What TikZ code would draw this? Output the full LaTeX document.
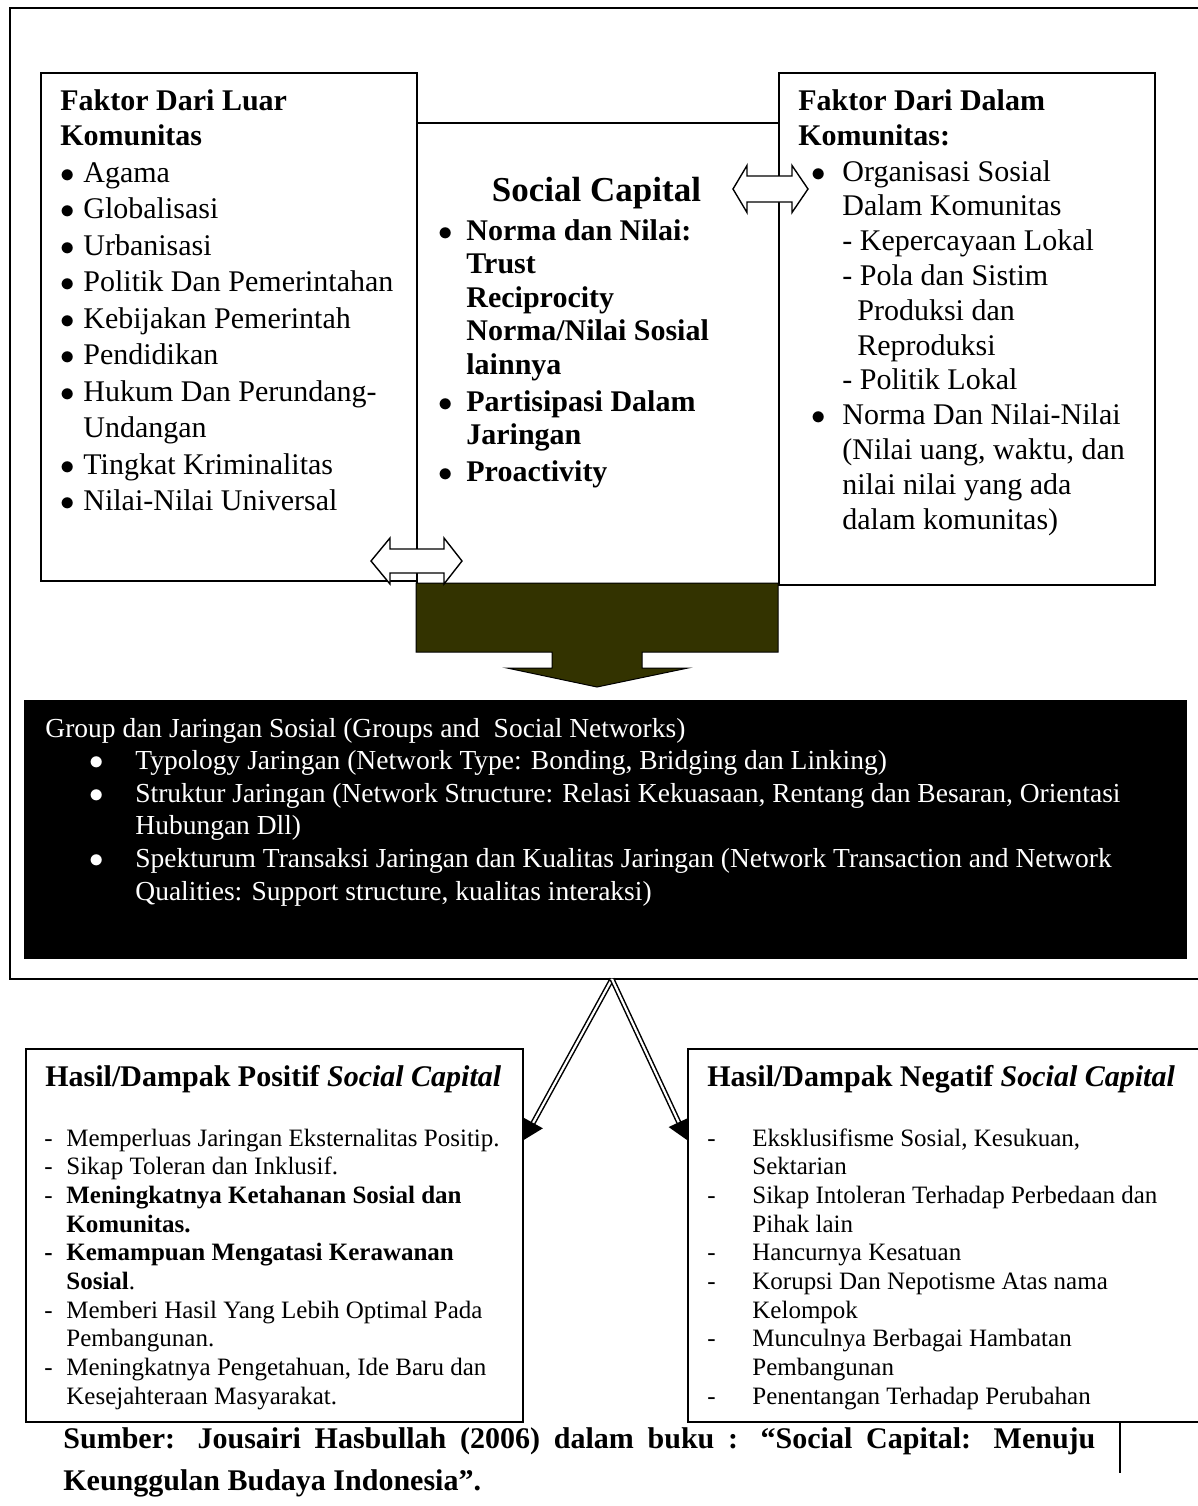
\documentclass[tikz,border=0pt]{standalone}
\usepackage{fontspec}
\setmainfont{Liberation Serif}
\usetikzlibrary{arrows.meta,calc}

\definecolor{olivebrown}{RGB}{51,51,0}

\newcommand{\bul}[1]{\makebox[#1][l]{$\bullet$}}
\newcommand{\dsh}[1]{\makebox[#1][l]{-}}

\tikzset{
  boxframe/.style={draw,line width=0.85pt,fill=white,inner sep=0pt,anchor=north west},
  txt/.style={inner sep=0pt,anchor=base west},
  fatarrow/.style={draw,line width=0.7pt,fill=white},
  thinarrow/.style={double,line width=0.75pt,double distance=1.1pt,
    -{Triangle[length=9.75pt,width=11pt]}}
}

\begin{document}
\begin{tikzpicture}[x=0.5pt,y=-0.5pt]
  \useasboundingbox (0,0) rectangle (1198,1506);

  % outer frame, right side runs off the page
  \draw[line width=0.85pt] (1198,8) -- (10,8) -- (10,979) -- (1198,979);

  \node[boxframe,minimum width=181pt,minimum height=230.5pt] (sc) at (416,122) {};
  \node[boxframe,minimum width=188pt,minimum height=254pt] (luar) at (40,72) {};
  \node[boxframe,minimum width=188pt,minimum height=256pt] (dalam) at (778,72) {};

  \node[txt,font={\fontsize{15}{17.5}\selectfont\bfseries}] (luarhead) at (60,110)
    {\begin{tabular}[t]{@{}l@{}}Faktor Dari Luar\\Komunitas\end{tabular}};
  \node[txt,font={\fontsize{15}{18.25}\selectfont}] (luarlist) at (60,182)
    {\begin{tabular}[t]{@{}l@{}}
      \bul{11.5pt}Agama\\
      \bul{11.5pt}Globalisasi\\
      \bul{11.5pt}Urbanisasi\\
      \bul{11.5pt}Politik Dan Pemerintahan\\
      \bul{11.5pt}Kebijakan Pemerintah\\
      \bul{11.5pt}Pendidikan\\
      \bul{11.5pt}Hukum Dan Perundang-\\
      \hspace*{11.5pt}Undangan\\
      \bul{11.5pt}Tingkat Kriminalitas\\
      \bul{11.5pt}Nilai-Nilai Universal
    \end{tabular}};

  \node[anchor=base,inner sep=0pt,font={\fontsize{17.5}{21}\selectfont\bfseries}] (sctitle) at (596.5,201) {Social Capital};
  \node[txt,font={\fontsize{15}{16.75}\selectfont\bfseries}] (sclist) at (438,240)
    {\begin{tabular}[t]{@{}l@{}}
      \bul{14pt}Norma dan Nilai:\\
      \hspace*{14pt}Trust\\
      \hspace*{14pt}Reciprocity\\
      \hspace*{14pt}Norma/Nilai Sosial\\
      \hspace*{14pt}lainnya\\[1.75pt]
      \bul{14pt}Partisipasi Dalam\\
      \hspace*{14pt}Jaringan\\[1.75pt]
      \bul{14pt}Proactivity
    \end{tabular}};

  \node[txt,font={\fontsize{15}{17.5}\selectfont\bfseries}] (dalamhead) at (798,110)
    {\begin{tabular}[t]{@{}l@{}}Faktor Dari Dalam\\Komunitas:\end{tabular}};
  \node[txt,font={\fontsize{15}{17.4}\selectfont}] (dalamlist) at (811,181)
    {\begin{tabular}[t]{@{}l@{}}
      \bul{15.5pt}Organisasi Sosial\\
      \hspace*{15.5pt}Dalam Komunitas\\
      \hspace*{15.5pt}- Kepercayaan Lokal\\
      \hspace*{15.5pt}- Pola dan Sistim\\
      \hspace*{23pt}Produksi dan\\
      \hspace*{23pt}Reproduksi\\
      \hspace*{15.5pt}- Politik Lokal\\
      \bul{15.5pt}Norma Dan Nilai-Nilai\\
      \hspace*{15.5pt}(Nilai uang, waktu, dan\\
      \hspace*{15.5pt}nilai nilai yang ada\\
      \hspace*{15.5pt}dalam komunitas)
    \end{tabular}};

  \draw[fatarrow] (733,189) -- (747,165.5) -- (747,176) -- (792,176) -- (792,165.5)
    -- (808,189) -- (792,212.5) -- (792,202) -- (747,202) -- (747,212.5) -- cycle;

  \draw[line width=0.5pt,fill=olivebrown] (416,583) -- (778,583) -- (778,652) -- (642,652)
    -- (642,668) -- (688,668) -- (597,687) -- (507,668) -- (552,668) -- (552,652)
    -- (416,652) -- cycle;

  \draw[fatarrow] (371,561) -- (390,538) -- (390,549) -- (444,549) -- (444,538)
    -- (462,561) -- (444,584) -- (444,573) -- (390,573) -- (390,584) -- cycle;

  \node[boxframe,fill=black,minimum width=580.5pt,minimum height=128.5pt] (jaringan) at (24,700) {};
  \node[txt,text=white,font={\fontsize{13.75}{16.3}\selectfont}] (jaringantext) at (45,737)
    {\begin{tabular}[t]{@{}l@{}}
      Group dan Jaringan Sosial (Groups and\ \ Social Networks)\\
      \hspace*{22pt}\bul{23pt}Typology Jaringan (Network Type: Bonding, Bridging dan Linking)\\
      \hspace*{22pt}\bul{23pt}Struktur Jaringan (Network Structure: Relasi Kekuasaan, Rentang dan Besaran, Orientasi\\
      \hspace*{45pt}Hubungan Dll)\\
      \hspace*{22pt}\bul{23pt}Spekturum Transaksi Jaringan dan Kualitas Jaringan (Network Transaction and Network\\
      \hspace*{45pt}Qualities: Support structure, kualitas interaksi)
    \end{tabular}};

  \coordinate (apex) at (612,979);
  \node[boxframe,minimum width=248.5pt,minimum height=186.5pt] (posbox) at (25,1048) {};
  \node[boxframe,minimum width=261.5pt,minimum height=186.5pt] (negbox) at (687,1048) {};

  \draw[thinarrow] (apex) -- ($(posbox.north east)+(0,92)$);
  \draw[thinarrow] (apex) -- ($(negbox.north west)+(0,92)$);

  \node[txt,font={\fontsize{15}{18}\selectfont\bfseries}] (poshead) at (45,1086)
    {Hasil/Dampak Positif \textit{Social Capital}};
  \node[txt,font={\fontsize{12.5}{14.35}\selectfont}] (poslist) at (44,1146)
    {\begin{tabular}[t]{@{}l@{}}
      \dsh{11pt}Memperluas Jaringan Eksternalitas Positip.\\
      \dsh{11pt}Sikap Toleran dan Inklusif.\\
      \dsh{11pt}\textbf{Meningkatnya Ketahanan Sosial dan}\\
      \hspace*{11pt}\textbf{Komunitas.}\\
      \textbf{\dsh{11pt}Kemampuan Mengatasi Kerawanan}\\
      \hspace*{11pt}\textbf{Sosial}.\\
      \dsh{11pt}Memberi Hasil Yang Lebih Optimal Pada\\
      \hspace*{11pt}Pembangunan.\\
      \dsh{11pt}Meningkatnya Pengetahuan, Ide Baru dan\\
      \hspace*{11pt}Kesejahteraan Masyarakat.
    \end{tabular}};

  \node[txt,font={\fontsize{15}{18}\selectfont\bfseries}] (neghead) at (707,1086)
    {Hasil/Dampak Negatif \textit{Social Capital}};
  \node[txt,font={\fontsize{12.5}{14.35}\selectfont}] (neglist) at (707,1146)
    {\begin{tabular}[t]{@{}l@{}}
      \dsh{22.5pt}Eksklusifisme Sosial, Kesukuan,\\
      \hspace*{22.5pt}Sektarian\\
      \dsh{22.5pt}Sikap Intoleran Terhadap Perbedaan dan\\
      \hspace*{22.5pt}Pihak lain\\
      \dsh{22.5pt}Hancurnya Kesatuan\\
      \dsh{22.5pt}Korupsi Dan Nepotisme Atas nama\\
      \hspace*{22.5pt}Kelompok\\
      \dsh{22.5pt}Munculnya Berbagai Hambatan\\
      \hspace*{22.5pt}Pembangunan\\
      \dsh{22.5pt}Penentangan Terhadap Perubahan
    \end{tabular}};

  \node[txt,font={\fontsize{15}{21}\selectfont\bfseries}] (sumber) at (63,1448)
    {\begin{tabular}[t]{@{}l@{}}
      \makebox[516pt][s]{Sumber: Jousairi Hasbullah (2006) dalam buku : “Social Capital: Menuju}\\
      Keunggulan Budaya Indonesia”.
    \end{tabular}};
  \draw[line width=0.75pt] (negbox.south west -| 1120,0) -- (1120,1473);

\end{tikzpicture}
\end{document}
